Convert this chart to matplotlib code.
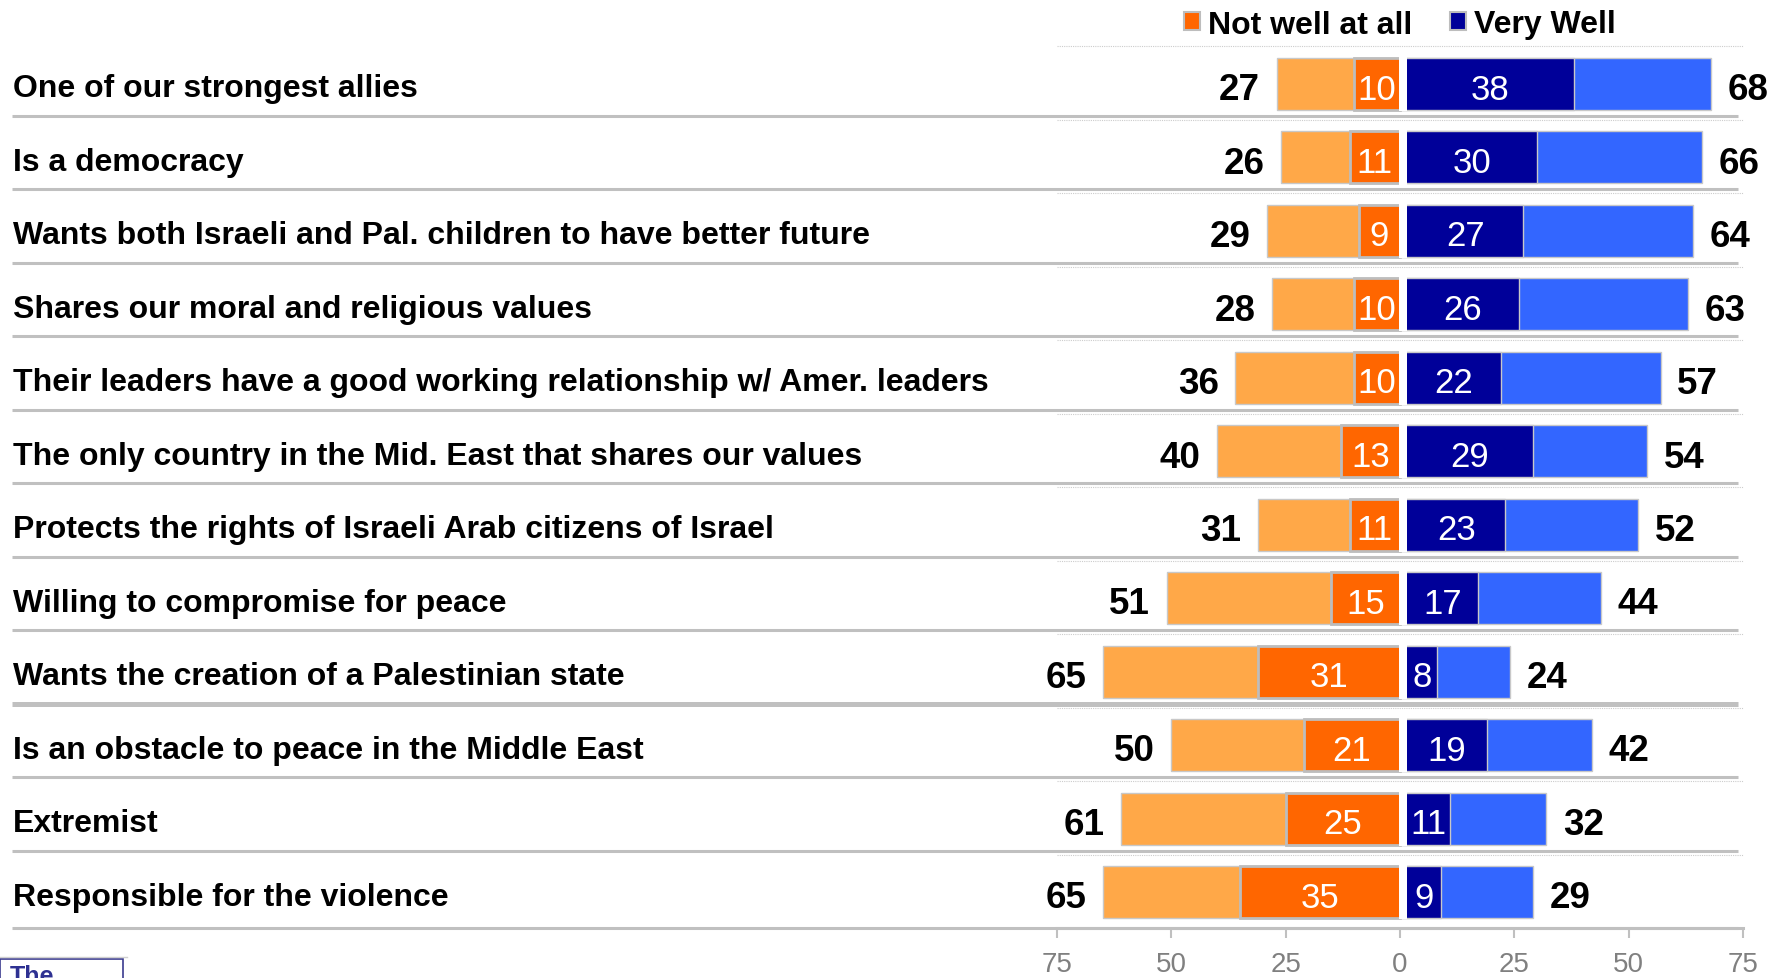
import matplotlib.pyplot as plt
import matplotlib.transforms as mtransforms
from matplotlib.patches import Patch, Rectangle
from matplotlib.lines import Line2D

labels = [
    "One of our strongest allies",
    "Is a democracy",
    "Wants both Israeli and Pal. children to have better future",
    "Shares our moral and religious values",
    "Their leaders have a good working relationship w/ Amer. leaders",
    "The only country in the Mid. East that shares our values",
    "Protects the rights of Israeli Arab citizens of Israel",
    "Willing to compromise for peace",
    "Wants the creation of a Palestinian state",
    "Is an obstacle to peace in the Middle East",
    "Extremist",
    "Responsible for the violence",
]
not_well_total = [27, 26, 29, 28, 36, 40, 31, 51, 65, 50, 61, 65]
not_well_at_all = [10, 11, 9, 10, 10, 13, 11, 15, 31, 21, 25, 35]
very_well = [38, 30, 27, 26, 22, 29, 23, 17, 8, 19, 11, 9]
well_total = [68, 66, 64, 63, 57, 54, 52, 44, 24, 42, 32, 29]

tick_values = [-75, -50, -25, 0, 25, 50, 75]
tick_labels = ["75", "50", "25", "0", "25", "50", "75"]

FONT = "Liberation Sans"
W, H = 1781, 979

fig = plt.figure(figsize=(W / 100, H / 100), dpi=100)
ax = fig.add_axes([1057 / W, 1 - 929 / H, 686 / W, 882 / H])
ax.set_xlim(-75, 75)
ax.set_ylim(11.49, -0.517)

rows = list(range(len(labels)))
bh = 0.708
gap = 1.55  # white stripe between the two halves

ax.barh(rows, [-v for v in not_well_total], height=bh, color="#FFA848",
        edgecolor="#C8C8C8", linewidth=1, zorder=2)
ax.barh(rows, [-v for v in not_well_at_all], height=bh, color="#FF6600",
        edgecolor="#BDBDBD", linewidth=2, zorder=3)
ax.barh(rows, well_total, height=bh, color="#3366FF",
        edgecolor="#C8C8C8", linewidth=1, zorder=2)
ax.barh(rows, very_well, height=bh, color="#000099",
        edgecolor="#C8C8C8", linewidth=1, zorder=3)
ax.barh(rows, gap + 0.2, left=-0.2, height=bh + 0.03, color="white", zorder=4)

for i in rows:
    # totals outside the bars
    ax.annotate(str(not_well_total[i]), xy=(-not_well_total[i], i), xytext=(-12, -11),
                textcoords="offset points", ha="right", va="baseline",
                fontsize=26.5, fontweight="bold", family=FONT, color="black")
    ax.annotate(str(well_total[i]), xy=(well_total[i], i), xytext=(12, -11),
                textcoords="offset points", ha="left", va="baseline",
                fontsize=26.5, fontweight="bold", family=FONT, color="black")
    # inner values
    ax.annotate(str(not_well_at_all[i]), xy=(-not_well_at_all[i] / 2, i), xytext=(0, -10.5),
                textcoords="offset points", ha="center", va="baseline",
                fontsize=25, family=FONT, color="white", zorder=5)
    ax.annotate(str(very_well[i]), xy=((gap + very_well[i]) / 2, i), xytext=(0, -10.5),
                textcoords="offset points", ha="center", va="baseline",
                fontsize=25, family=FONT, color="white", zorder=5)
    # row label
    ax.annotate(labels[i], xy=(13 / W, i), xycoords=("figure fraction", "data"),
                xytext=(0, -9), textcoords="offset points", ha="left", va="baseline",
                fontsize=23, fontweight="bold", family=FONT, color="black",
                annotation_clip=False)

# separators across the whole width
trans = mtransforms.blended_transform_factory(fig.transFigure, ax.transData)
for i in rows:
    yy = i + 0.436 if i < len(rows) - 1 else 11.49
    lw = 3.6 if i == 8 else 2.2
    ax.plot([12 / W, 1738 / W], [yy, yy], transform=trans, color="#C0C0C0", lw=lw,
            solid_capstyle="butt", clip_on=False, zorder=1)

# dotted grid lines inside plot area
for yy in [-0.517] + [i + 0.49 for i in rows[:-1]]:
    ax.plot([-75, 75], [yy, yy], color="#CCCCCC", lw=0.8, ls=(0, (1, 1)),
            clip_on=False, zorder=1)

for s in ["top", "left", "right"]:
    ax.spines[s].set_visible(False)
ax.spines["bottom"].set_color("#C0C0C0")
ax.spines["bottom"].set_linewidth(2.2)
ax.set_yticks([])
ax.set_xticks(tick_values)
ax.set_xticklabels(tick_labels, family=FONT)
ax.tick_params(axis="x", length=7, width=1.5, color="#C0C0C0", pad=9.5,
               labelsize=20, labelcolor="#808080")

handles = [Patch(facecolor="#FF6600", edgecolor="#BDBDBD", linewidth=1.5),
           Patch(facecolor="#000099", edgecolor="#BDBDBD", linewidth=1.5)]
fig.legend(handles=handles, labels=["Not well at all", "Very Well"], loc="center",
           bbox_to_anchor=(1400 / W, 1 - 25.5 / H), ncol=2, frameon=False,
           prop={"family": FONT, "weight": "bold", "size": 23},
           handlelength=0.5, handleheight=0.5, handletextpad=0.25,
           columnspacing=1.2, borderpad=0, borderaxespad=0)

# cut-off logo box in the corner
fig.add_artist(Line2D([0, 127 / W], [1 - 958 / H] * 2, color="#D0D0D0", lw=1))
fig.add_artist(Rectangle((0, -0.02), 123 / W, (979 - 960) / H + 0.02,
                         transform=fig.transFigure, fill=False,
                         edgecolor="#3B3B8F", lw=1.2))
fig.text(10 / W, 1 - 984 / H, "The", family=FONT, fontweight="bold",
         fontsize=18, color="#2E3192", va="baseline", ha="left")

fig.savefig("out.png", dpi=100)
